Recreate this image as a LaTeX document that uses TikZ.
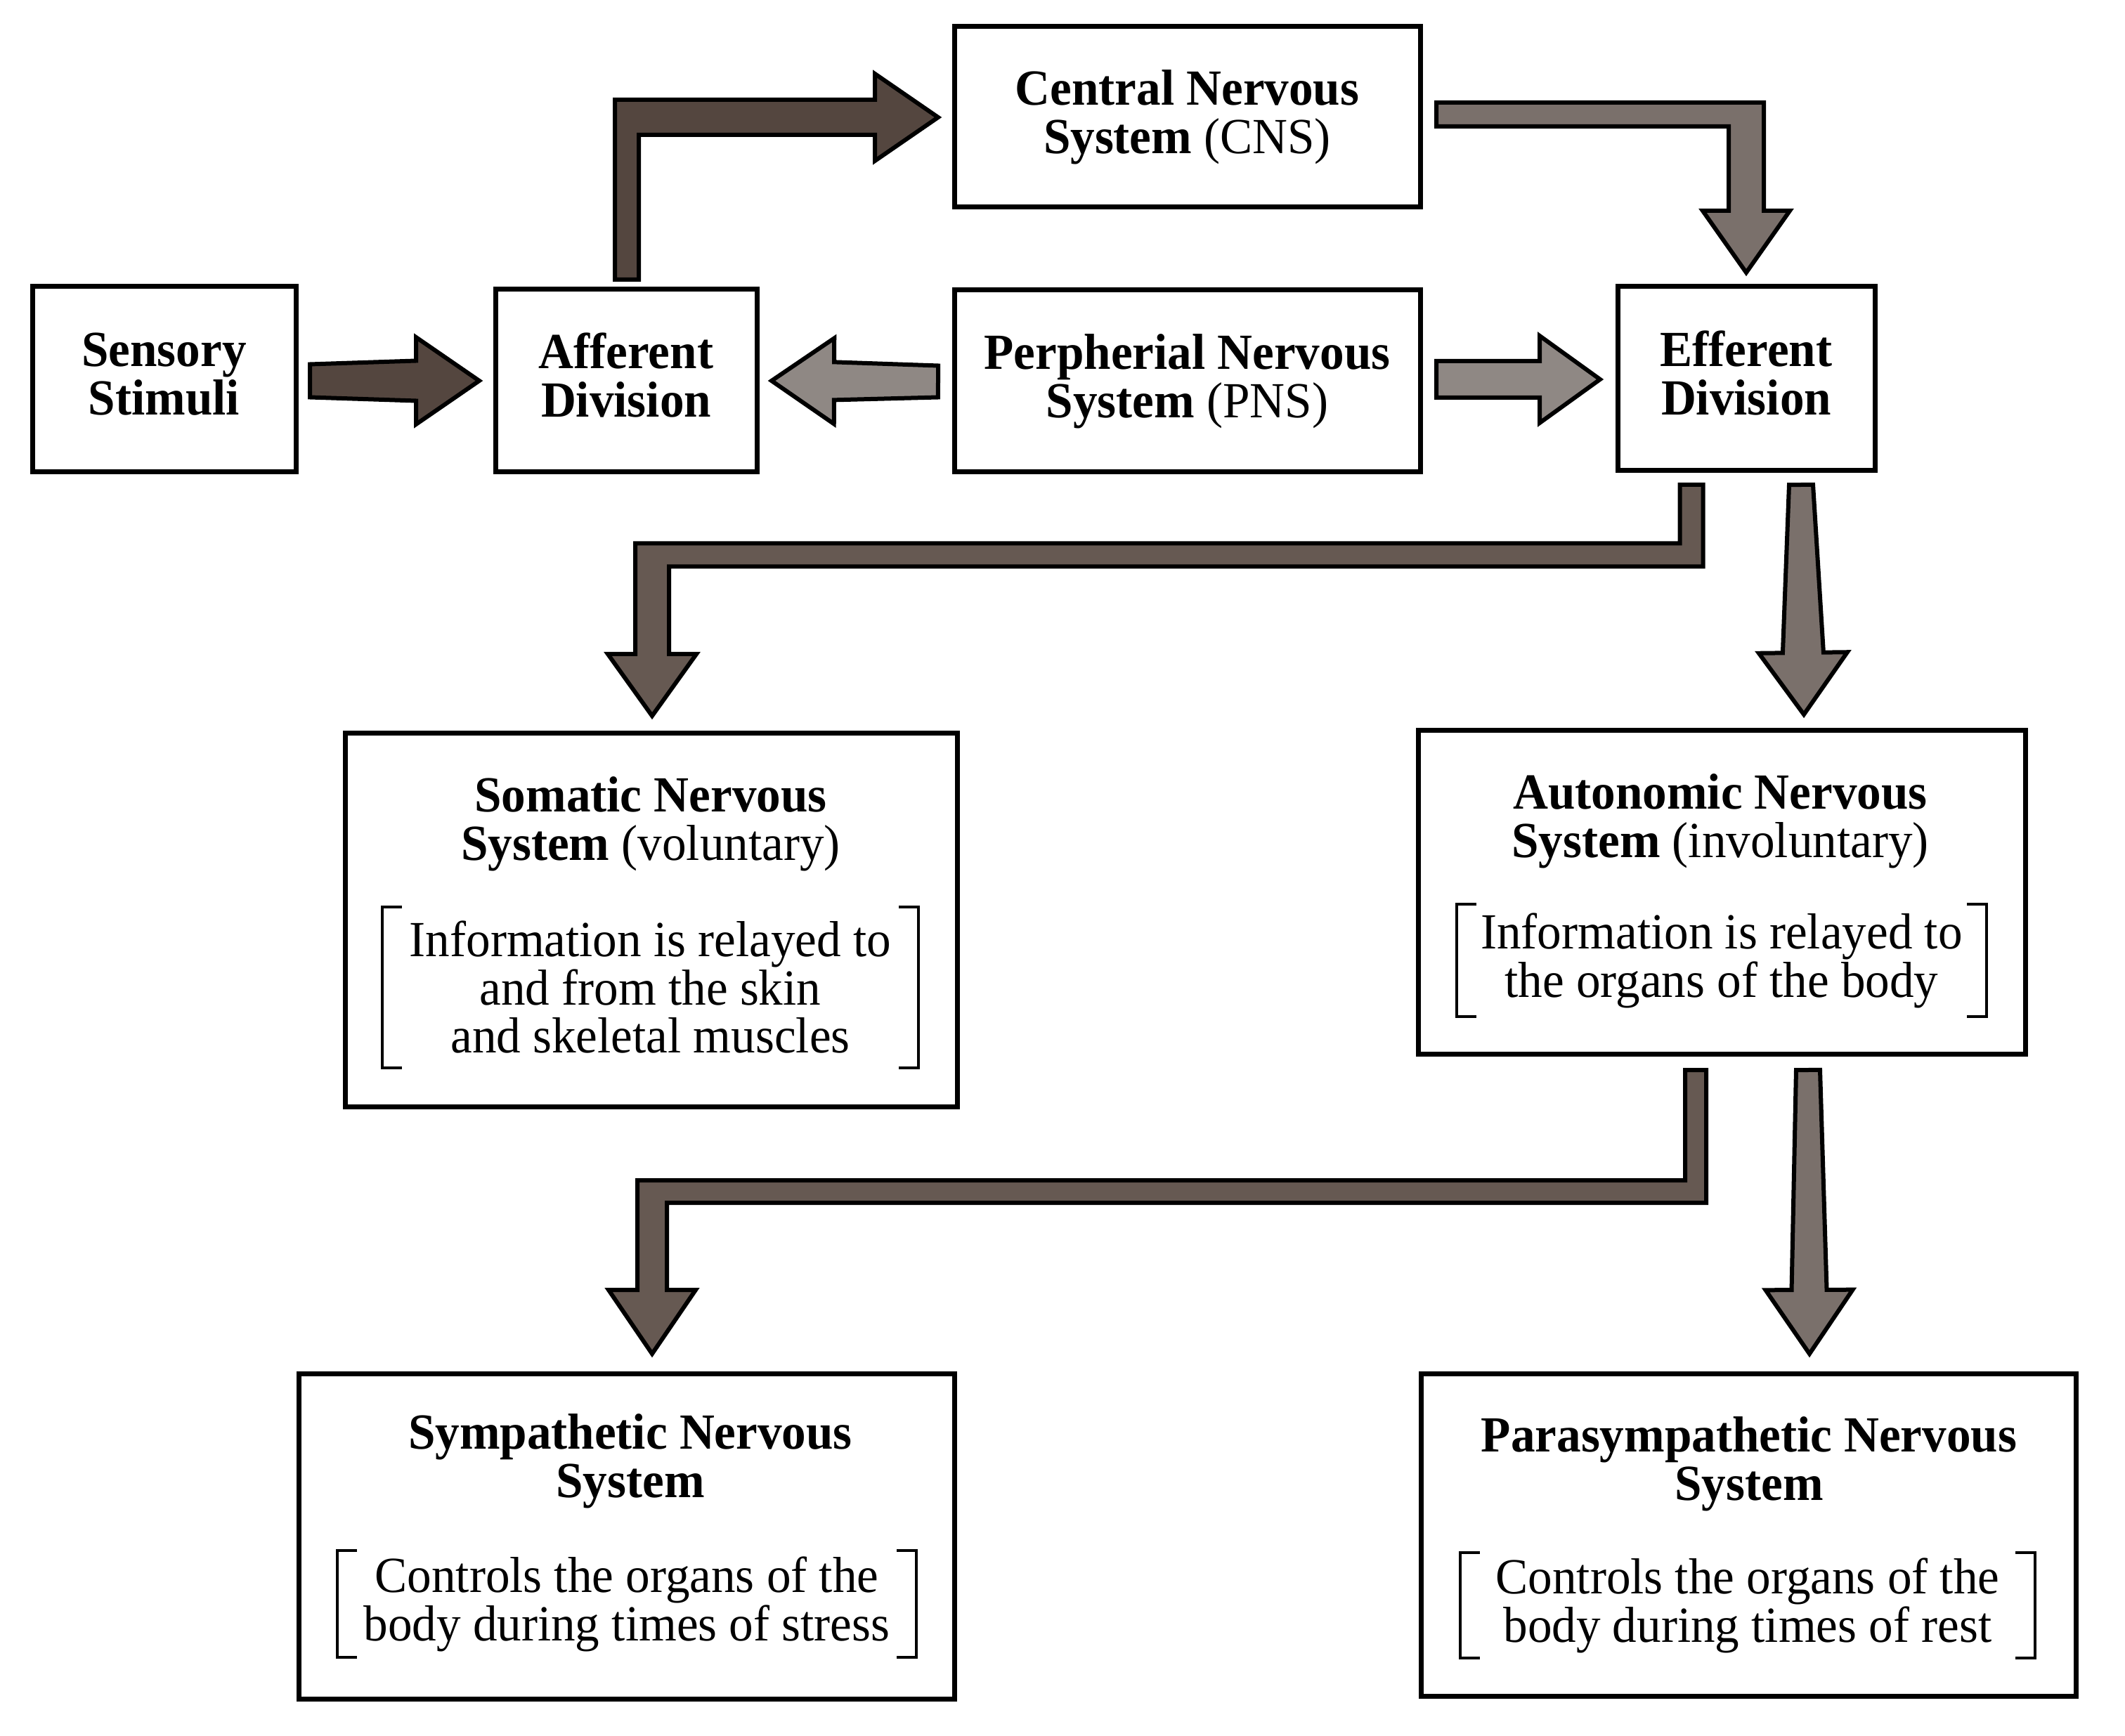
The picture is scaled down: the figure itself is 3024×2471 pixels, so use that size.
\documentclass[tikz,border=0pt]{standalone}
\usepackage{fontspec}
\setmainfont[FakeStretch=0.96]{Liberation Serif}
\usetikzlibrary{calc}
\definecolor{adark}{HTML}{54463F}
\definecolor{amdark}{HTML}{665952}
\definecolor{amid}{HTML}{7A706B}
\definecolor{alight}{HTML}{8F8884}
\newcommand\fsz{\fontsize{18pt}{17.25pt}\selectfont}
% straight block arrow: colour, tail, tip, half width at tail, half width at head base, head half width, head length, name of head-base coordinate
\newcommand\sarrow[8]{%
  \coordinate (#8) at ($(#3)!#7*0.25pt!(#2)$);
  \filldraw[arrowline, fill=#1] ($(#2)!#4*0.25pt!90:(#3)$) -- ($(#8)!#5*0.25pt!90:(#3)$)
    -- ($(#8)!#6*0.25pt!90:(#3)$) -- (#3) -- ($(#8)!#6*0.25pt!-90:(#3)$)
    -- ($(#8)!#5*0.25pt!-90:(#3)$) -- ($(#2)!#4*0.25pt!-90:(#3)$) -- cycle;}
\begin{document}
\begin{tikzpicture}[x=0.25pt,y=-0.25pt,
  box/.style={draw, line width=1.75pt, inner sep=0pt, outer sep=0pt, align=center, font=\fsz\bfseries},
  ttl/.style={align=center, font=\fsz\bfseries, inner sep=0pt},
  body/.style={align=center, font=\fsz, inner sep=0pt, outer sep=0pt},
  brk/.style={line width=1pt},
  arrowline/.style={draw=black, line width=1.5pt, line join=miter}]
\path[fill=white] (0,0) rectangle (3024,2471);
\useasboundingbox (0,0) rectangle (3024,2471);

% boxes
\node[box, text depth=4pt, minimum width=93.75pt, minimum height=66pt] (sens) at (233.5,540) {Sensory\\Stimuli};
\node[box, text depth=4pt, minimum width=93pt, minimum height=65pt] (aff) at (891,542) {Afferent\\Division};
\node[box, minimum width=165.75pt, minimum height=64.25pt] (cns) at (1689.5,166.5) {Central Nervous\\System {\mdseries (CNS)}};
\node[box, minimum width=165.75pt, minimum height=64.75pt] (pns) at (1689.5,542.5) {Perpherial Nervous\\System {\mdseries (PNS)}};
\node[box, text depth=4pt, minimum width=91.5pt, minimum height=65.5pt] (eff) at (2485,539) {Efferent\\Division};
\node[box, minimum width=217.75pt, minimum height=132.75pt] (som) at (926.5,1309.5) {};
\node[box, minimum width=216pt, minimum height=115pt] (aut) at (2450,1270) {};
\node[box, minimum width=233.25pt, minimum height=115.75pt] (sym) at (891.5,2186.5) {};
\node[box, minimum width=233pt, minimum height=114.75pt] (par) at (2488,2184.5) {};

% titles
\node[ttl] (somt) at (926,1173) {Somatic Nervous\\System {\mdseries (voluntary)}};
\node[ttl] (autt) at (2448,1169) {Autonomic Nervous\\System {\mdseries (involuntary)}};
\node[ttl] (symt) at (897,2080) {Sympathetic Nervous\\System};
\node[ttl] (part) at (2489,2084) {Parasympathetic Nervous\\System};

% bracketed texts
\node[body, minimum width=190.75pt, minimum height=57.25pt] (somb) at (925.5,1405) {Information is relayed to\\and from the skin\\and skeletal muscles};
\node[body, minimum width=188.5pt, minimum height=40pt] (autb) at (2450,1367) {Information is relayed to\\the organs of the body};
\node[body, minimum width=206pt, minimum height=38pt] (symb) at (892,2283) {Controls the organs of the\\body during times of stress};
\node[body, minimum width=204.5pt, minimum height=37.5pt] (parb) at (2487,2285) {Controls the organs of the\\body during times of rest};

\foreach \b in {somb,autb,symb,parb}{
  \draw[brk] ($(\b.north west)+(28,0)$) -- (\b.north west) -- (\b.south west) -- ($(\b.south west)+(28,0)$);
  \draw[brk] ($(\b.north east)+(-28,0)$) -- (\b.north east) -- (\b.south east) -- ($(\b.south east)+(-28,0)$);
}

% connectors
\coordinate (a1t) at ($(sens.east)+(20,2)$);
\coordinate (a1h) at ($(aff.west)+(-23,0)$);
\sarrow{adark}{a1t}{a1h}{23.5}{28.5}{62}{90}{a1b}

\coordinate (a2t) at ($(aff.north)+(1,-14)$);
\coordinate (a2h) at ($(cns.west)+(-23,0.5)$);
\filldraw[arrowline, fill=adark] ($(a2t)+(-17,0)$) -- ($(a2t|-a2h)+(-17,-25)$) -- ($(a2h)+(-90,-25)$)
  -- ($(a2h)+(-90,-62)$) -- (a2h) -- ($(a2h)+(-90,62)$) -- ($(a2h)+(-90,25)$)
  -- ($(a2t|-a2h)+(17,25)$) -- ($(a2t)+(17,0)$) -- cycle;

\coordinate (a3t) at ($(cns.east)+(23,-3.5)$);
\coordinate (a3h) at ($(eff.north)+(0,-20)$);
\filldraw[arrowline, fill=amid] ($(a3t)+(0,-17)$) -- ($(a3h|-a3t)+(25,-17)$) -- ($(a3h)+(25,-88)$)
  -- ($(a3h)+(62,-88)$) -- (a3h) -- ($(a3h)+(-62,-88)$) -- ($(a3h)+(-25,-88)$)
  -- ($(a3h|-a3t)+(-25,17)$) -- ($(a3t)+(0,17)$) -- cycle;

\coordinate (a4t) at ($(pns.west)+(-23,0.5)$);
\coordinate (a4h) at ($(aff.east)+(21,0)$);
\sarrow{alight}{a4t}{a4h}{22.5}{27}{61}{89}{a4b}

\coordinate (a5t) at ($(pns.east)+(23,-2.5)$);
\coordinate (a5h) at ($(eff.west)+(-25,1)$);
\sarrow{alight}{a5t}{a5h}{26}{26}{62}{86}{a5b}

\coordinate (a6t) at ($(eff.south)+(-78,20)$);
\coordinate (a6m) at ($(a6t)+(0,100)$);
\coordinate (a6h) at ($(som.north)+(1.5,-25)$);
\filldraw[arrowline, fill=amdark] ($(a6t)+(-16.5,0)$) -- ($(a6m)+(-16.5,-16.5)$) -- ($(a6h|-a6m)+(-24,-16.5)$)
  -- ($(a6h)+(-24,-88)$) -- ($(a6h)+(-63,-88)$) -- (a6h) -- ($(a6h)+(63,-88)$) -- ($(a6h)+(24,-88)$)
  -- ($(a6h|-a6m)+(24,16.5)$) -- ($(a6m)+(16.5,16.5)$) -- ($(a6t)+(16.5,0)$) -- cycle;

\coordinate (a7t) at ($(eff.south)+(78,20)$);
\coordinate (a7h) at ($(aut.north)+(117,-23)$);
\sarrow{amid}{a7t}{a7h}{17}{29}{63}{88}{a7b}

\coordinate (a8t) at ($(aut.south)+(-37,23)$);
\coordinate (a8m) at ($(a8t)+(0,173)$);
\coordinate (a8h) at ($(sym.north)+(36.5,-28)$);
\filldraw[arrowline, fill=amdark] ($(a8t)+(-15,0)$) -- ($(a8m)+(-15,-16)$) -- ($(a8h|-a8m)+(-21,-16)$)
  -- ($(a8h)+(-21,-91)$) -- ($(a8h)+(-62,-91)$) -- (a8h) -- ($(a8h)+(62,-91)$) -- ($(a8h)+(21,-91)$)
  -- ($(a8h|-a8m)+(21,16)$) -- ($(a8m)+(15,16)$) -- ($(a8t)+(15,0)$) -- cycle;

\coordinate (a9t) at ($(aut.south)+(123,23)$);
\coordinate (a9h) at ($(par.north)+(87,-28)$);
\sarrow{amid}{a9t}{a9h}{17}{25}{62}{91}{a9b}
\end{tikzpicture}
\end{document}
